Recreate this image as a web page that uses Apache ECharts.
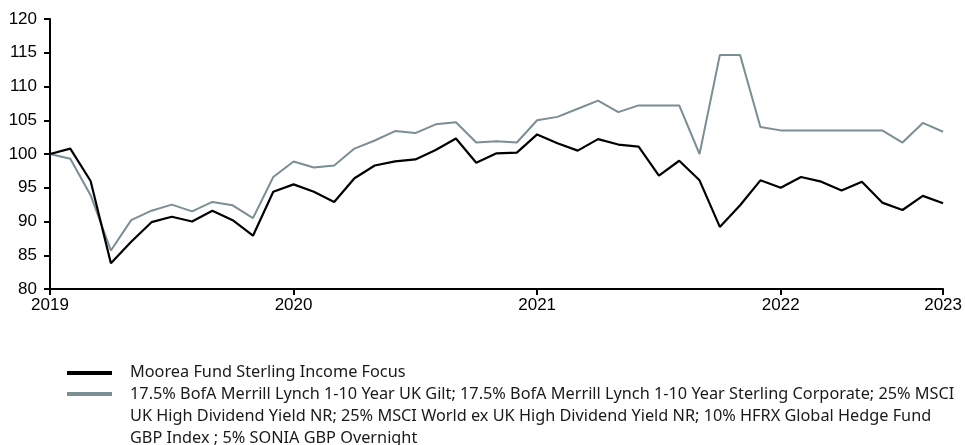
<!DOCTYPE html>
<html>
<head>
<meta charset="utf-8">
<script src="https://cdn.jsdelivr.net/npm/echarts@6/dist/echarts.min.js"></script>
<style>
  html, body { margin: 0; padding: 0; background: #fff; }
  #chart { width: 965px; height: 445px; }
</style>
</head>
<body>
<div id="chart"></div>
<script>
// monthly points, Jan 2019 .. Sep 2022 (axis label at the end reads "2023")
const months = [
  "2019", "", "", "", "", "", "", "", "", "", "", "",
  "2020", "", "", "", "", "", "", "", "", "", "", "",
  "2021", "", "", "", "", "", "", "", "", "", "", "",
  "2022", "", "", "", "", "", "", "", "2023"
];

const fundName = "Moorea Fund Sterling Income Focus";
const benchName = "17.5% BofA Merrill Lynch 1-10 Year UK Gilt; 17.5% BofA Merrill Lynch 1-10 Year Sterling Corporate; 25% MSCI\nUK High Dividend Yield NR; 25% MSCI World ex UK High Dividend Yield NR; 10% HFRX Global Hedge Fund\nGBP Index ; 5% SONIA GBP Overnight";

const fundValues = [
  100.0, 100.8, 96.0, 83.8, 87.0, 89.9, 90.7, 90.0, 91.6, 90.2, 87.9, 94.4,
  95.5, 94.4, 92.9, 96.4, 98.3, 98.9, 99.2, 100.6, 102.3, 98.7, 100.1, 100.2,
  102.9, 101.6, 100.5, 102.2, 101.4, 101.1, 96.8, 99.0, 96.1, 89.2, 92.4, 96.1,
  95.0, 96.6, 95.9, 94.6, 95.9, 92.8, 91.7, 93.8, 92.7
];

const benchValues = [
  100.0, 99.3, 93.9, 85.7, 90.2, 91.6, 92.5, 91.5, 92.9, 92.4, 90.5, 96.6,
  98.9, 98.0, 98.3, 100.8, 102.0, 103.4, 103.1, 104.4, 104.7, 101.7, 101.9, 101.7,
  105.0, 105.5, 106.7, 107.9, 106.2, 107.2, 107.2, 107.2, 100.0, 114.65, 114.65, 104.0,
  103.5, 103.5, 103.5, 103.5, 103.5, 103.5, 101.7, 104.6, 103.3
];

const yTicks = { min: 80, max: 120, step: 5 };

const fundColor = "#000000";
const benchColor = "#7b8e93";
const legendFont = '"Noto Sans", sans-serif';
const axisFont = "Liberation Sans";

const chart = echarts.init(document.getElementById("chart"));

const axisText = {
  color: "#000",
  fontFamily: axisFont,
  fontSize: 17
};

const option = {
  animation: false,
  backgroundColor: "#ffffff",
  grid: { left: 50, right: 19, top: 19, bottom: 156, containLabel: false },
  xAxis: {
    type: "category",
    boundaryGap: false,
    data: months,
    axisLine: { lineStyle: { color: "#000", width: 2 } },
    axisTick: {
      show: true,
      length: 6,
      lineStyle: { color: "#000", width: 2 },
      interval: function (i, v) { return v !== ""; }
    },
    axisLabel: Object.assign({
      interval: function (i, v) { return v !== ""; },
      margin: 8,
      showMaxLabel: true
    }, axisText),
    splitLine: { show: false }
  },
  yAxis: {
    type: "value",
    min: yTicks.min,
    max: yTicks.max,
    interval: yTicks.step,
    axisLine: { show: true, lineStyle: { color: "#000", width: 2 } },
    axisTick: { show: true, length: 6, lineStyle: { color: "#000", width: 2 } },
    axisLabel: Object.assign({ margin: 13 }, axisText),
    splitLine: { show: false }
  },
  series: [
    {
      name: benchName,
      type: "line",
      data: benchValues,
      symbol: "none",
      lineStyle: { color: benchColor, width: 2 },
      itemStyle: { color: benchColor }
    },
    {
      name: fundName,
      type: "line",
      data: fundValues,
      symbol: "none",
      lineStyle: { color: fundColor, width: 2.2 },
      itemStyle: { color: fundColor }
    }
  ],
  graphic: [
    { type: "rect", left: 67, top: 371, shape: { width: 45, height: 4 }, style: { fill: fundColor } },
    {
      type: "text", left: 130, top: 361,
      style: { text: fundName, fill: "#1a1a1a", font: "16.3px " + legendFont, lineHeight: 22 }
    },
    { type: "rect", left: 67, top: 392, shape: { width: 45, height: 4 }, style: { fill: benchColor } },
    {
      type: "text", left: 130, top: 383,
      style: { text: benchName, fill: "#1a1a1a", font: "16.3px " + legendFont, lineHeight: 22 }
    }
  ]
};

chart.setOption(option);
</script>
</body>
</html>
